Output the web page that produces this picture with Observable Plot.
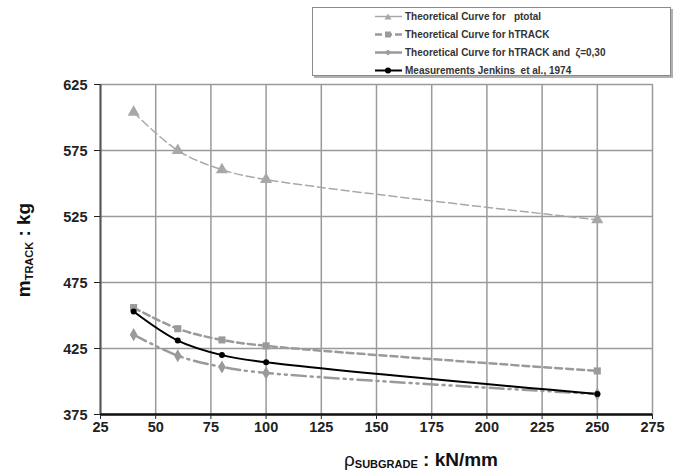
<!DOCTYPE html>
<html>
<head>
<meta charset="utf-8">
<script src="https://cdn.jsdelivr.net/npm/d3@7"></script>
<script src="https://cdn.jsdelivr.net/npm/@observablehq/plot@0.6"></script>
<style>
  html, body { margin: 0; padding: 0; background: #fff; }
  #wrap { position: relative; width: 681px; height: 474px; font-family: "Liberation Sans", Arial, sans-serif; }
  #legend { position: absolute; left: 312px; top: 7px; width: 359px; height: 69px; border: 1px solid #8a8a8a;
            box-shadow: 2px 2px 0 #b0b0b0; background: #fff; box-sizing: border-box; }
  .row { position: absolute; left: 62px; height: 12px; display: flex; align-items: center; }
  .row span { font-size: 10px; font-weight: bold; color: #333; margin-left: 3px; white-space: pre; }
</style>
</head>
<body>
<div id="wrap"></div>
<script>
// ---- data ----
const rho = [40, 60, 80, 100, 250];
const ptotal = [604, 575, 560.5, 553, 522.5];
const hTrack = [456, 440, 431.5, 427, 408];
const hTrackZeta = [435.5, 419.5, 411, 406.5, 390.5];
const jenkins = [453, 431, 420, 414.5, 390.5];
const seriesNames = [
  "Theoretical Curve for   ptotal",
  "Theoretical Curve for hTRACK",
  "Theoretical Curve for hTRACK and  ζ=0,30",
  "Measurements Jenkins  et al., 1974"
];
const xTicks = [25, 50, 75, 100, 125, 150, 175, 200, 225, 250, 275];
const yTicks = [375, 425, 475, 525, 575, 625];

const mk = (vals, s) => rho.map((x, i) => ({x, y: vals[i], s}));
const dP = mk(ptotal, 0), dH = mk(hTrack, 1), dZ = mk(hTrackZeta, 2), dJ = mk(jenkins, 3);

const styles = [
  {stroke: "#a8a8a8", strokeWidth: 1.5, dash: "8,4", symbol: "triangle", r: 4.5},
  {stroke: "#9a9a9a", strokeWidth: 2.5, dash: "7,4", symbol: "square", r: 4},
  {stroke: "#9a9a9a", strokeWidth: 2.5, dash: "14,5,2,5,2,5", symbol: "diamond", r: 4},
  {stroke: "#000000", strokeWidth: 2, dash: null, symbol: "circle", r: 3}
];

const font = "Liberation Sans, Arial, sans-serif";
const lineMark = (d, st) => Plot.line(d, {x: "x", y: "y", curve: "catmull-rom", stroke: st.stroke,
  strokeWidth: st.strokeWidth, strokeDasharray: st.dash || undefined});
const dotMark = (d, st) => Plot.dot(d, {x: "x", y: "y", symbol: () => st.symbol, r: st.r, fill: st.stroke, stroke: "none"});

const chart = Plot.plot({
  width: 681, height: 474,
  marginLeft: 100, marginRight: 29, marginTop: 84, marginBottom: 60,
  style: {fontFamily: font, background: "#fff", overflow: "visible"},
  x: {domain: [25, 275], ticks: xTicks},
  y: {domain: [375, 625], ticks: yTicks},
  marks: [
    Plot.gridX(xTicks, {stroke: "#9a9a9a", strokeOpacity: 1, strokeWidth: 1.5}),
    Plot.gridY(yTicks, {stroke: "#9a9a9a", strokeOpacity: 1, strokeWidth: 1.5}),
    Plot.ruleX([25], {stroke: "#555", strokeWidth: 2}),
    Plot.ruleY([375], {stroke: "#111", strokeWidth: 2.5}),
    Plot.axisX(xTicks, {tickSize: 5, stroke: "#222", tickFormat: () => "", label: null}),
    Plot.axisY(yTicks, {tickSize: 6, stroke: "#222", tickFormat: () => "", label: null}),
    Plot.text(xTicks, {x: d => d, frameAnchor: "bottom", dy: 13, lineAnchor: "middle", text: d => String(d),
      fontSize: 14.5, fontWeight: "bold", fill: "#222"}),
    Plot.text(yTicks, {y: d => d, frameAnchor: "left", dx: -13, dy: 1, textAnchor: "end", text: d => String(d),
      fontSize: 14.5, fontWeight: "bold", fill: "#222"}),
    lineMark(dP, styles[0]), lineMark(dH, styles[1]), lineMark(dZ, styles[2]), lineMark(dJ, styles[3]),
    dotMark(dP, styles[0]), dotMark(dH, styles[1]), dotMark(dZ, styles[2]), dotMark(dJ, styles[3])
  ]
});

const wrap = document.getElementById("wrap");
wrap.appendChild(chart);

const svg = d3.select(chart);

// axis titles with subscripts
const yl = svg.append("text").attr("transform", "translate(30,250) rotate(-90)")
  .attr("text-anchor", "middle").attr("font-family", font).attr("font-weight", "bold").attr("fill", "#111");
yl.append("tspan").attr("font-size", 19).text("m");
yl.append("tspan").attr("font-size", 11).attr("dy", 3).text("TRACK");
yl.append("tspan").attr("font-size", 19).attr("dy", -3).text(" : kg");

const xl = svg.append("text").attr("x", 421).attr("y", 466).attr("text-anchor", "middle")
  .attr("font-family", font).attr("font-weight", "bold").attr("fill", "#111");
xl.append("tspan").attr("font-size", 19).attr("font-weight", "normal").text("ρ");
xl.append("tspan").attr("font-size", 11).attr("dy", 2).text("SUBGRADE");
xl.append("tspan").attr("font-size", 19).attr("dy", -2).text(" : kN/mm");

// legend
const leg = document.createElement("div");
leg.id = "legend";
const rowTops = [2, 20, 38.5, 56];
const symPath = {
  triangle: "M13,2.5 L16.5,8.5 L9.5,8.5 Z",
  square: "M10,2.5 H16 V8.5 H10 Z",
  diamond: "M13,2.5 L16,5.5 L13,8.5 L10,5.5 Z"
};
seriesNames.forEach((name, i) => {
  const st = styles[i];
  const row = document.createElement("div");
  row.className = "row";
  row.style.top = rowTops[i] + "px";
  let shape = "";
  if (st.symbol === "circle") shape = `<circle cx="13" cy="5.5" r="3" fill="${st.stroke}"/>`;
  else shape = `<path d="${symPath[st.symbol]}" fill="${st.stroke}"/>`;
  const dash = i === 1 ? `stroke-dasharray="7,3"` : "";
  row.innerHTML = `<svg width="27" height="11"><line x1="0" x2="27" y1="5.5" y2="5.5" stroke="${st.stroke}" stroke-width="${st.strokeWidth}" ${dash}/>${shape}</svg><span>${name}</span>`;
  leg.appendChild(row);
});
wrap.appendChild(leg);
</script>
</body>
</html>
